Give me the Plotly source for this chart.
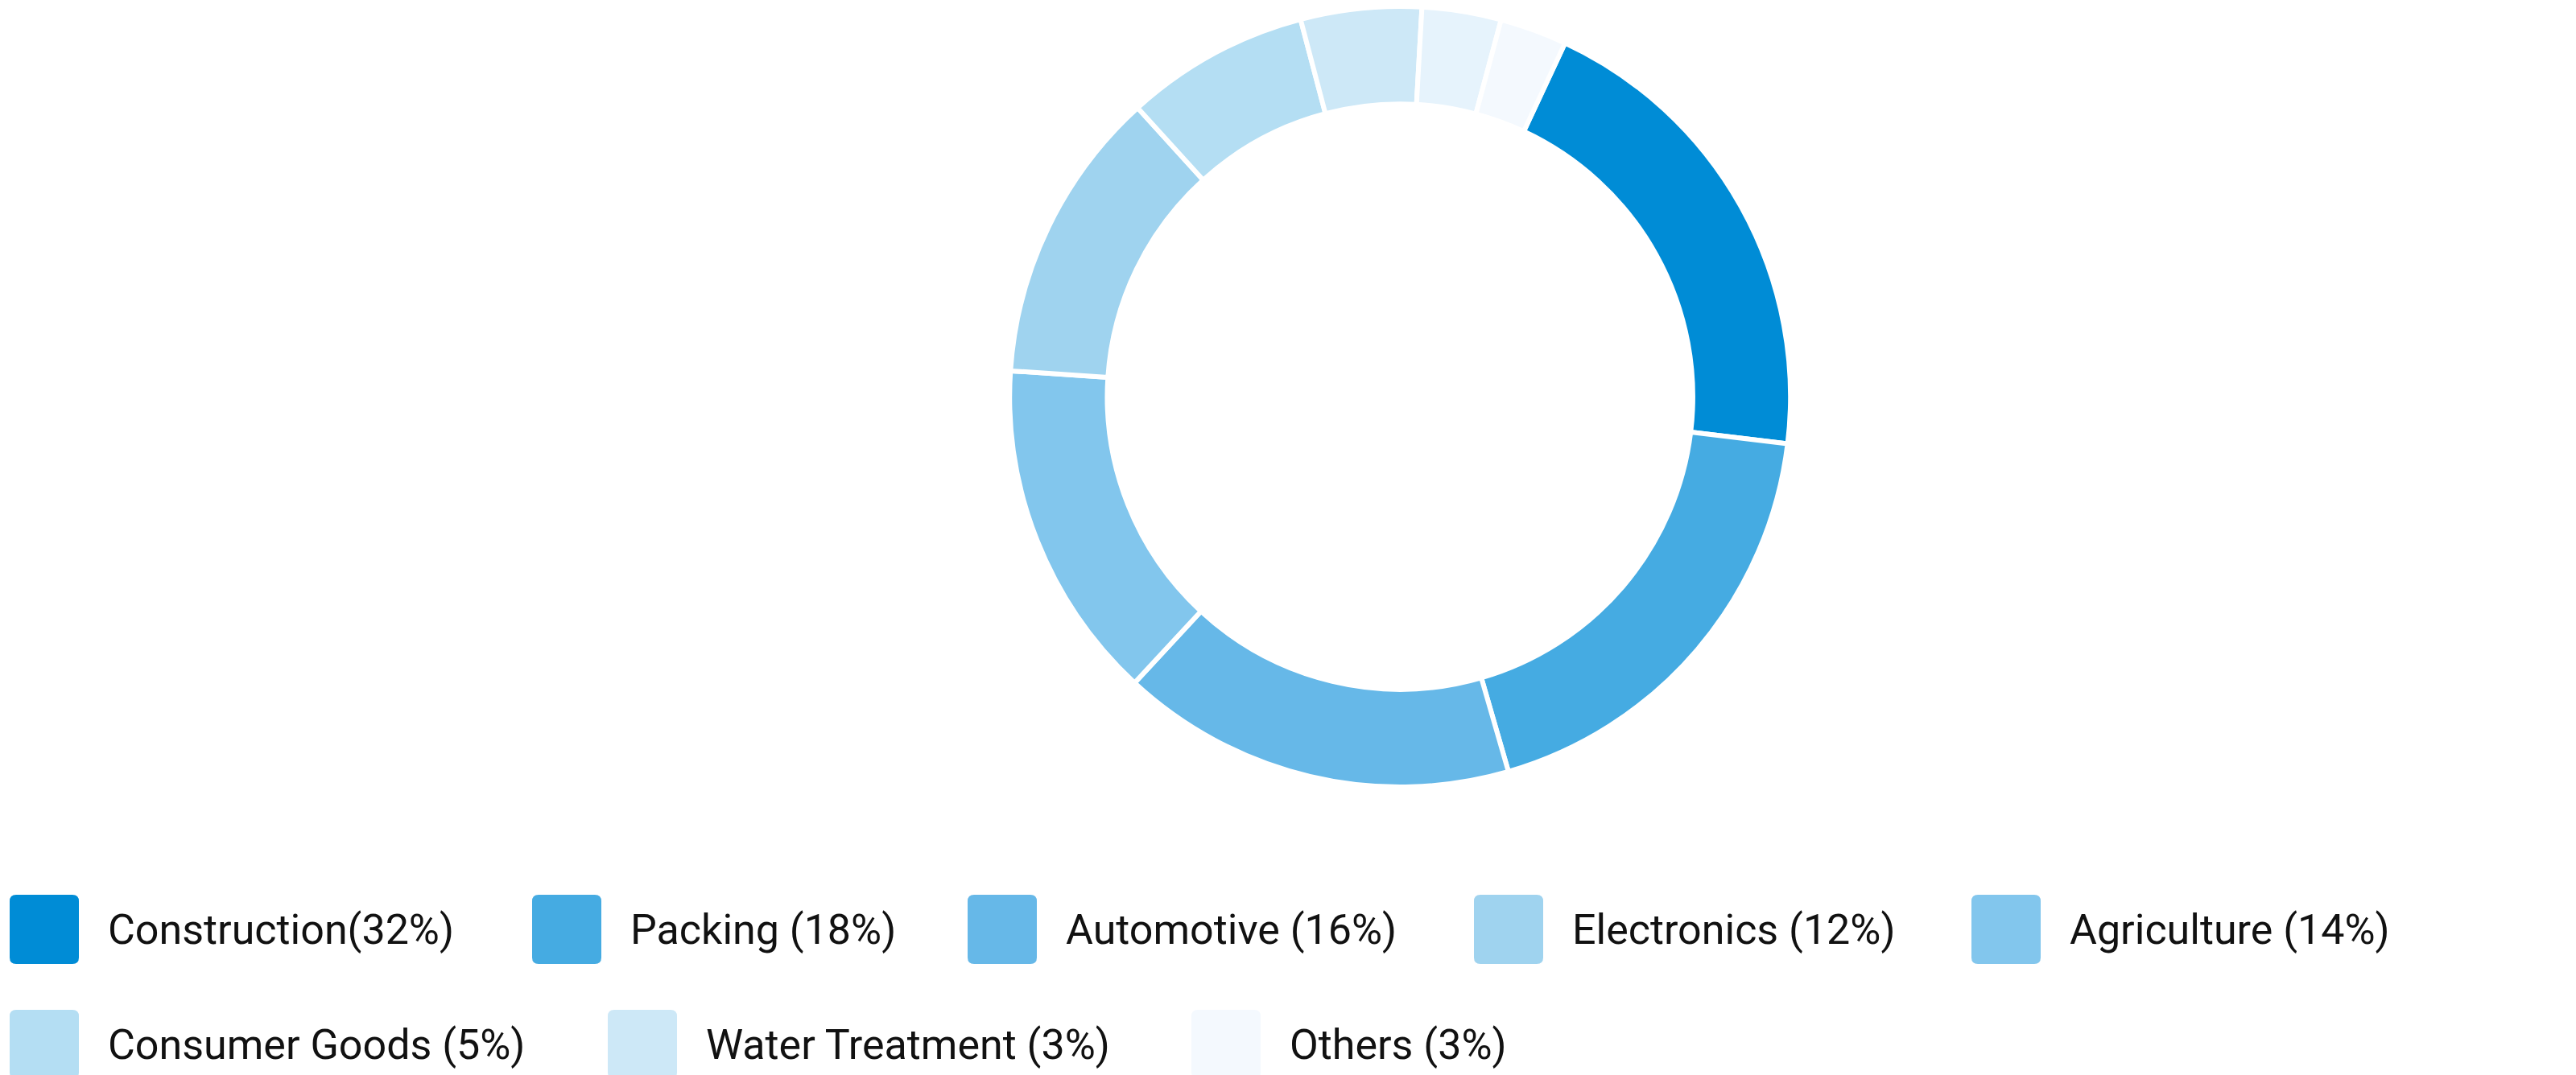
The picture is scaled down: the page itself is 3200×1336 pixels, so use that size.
import plotly.graph_objects as go

labels = ["Construction", "Packing", "Automotive", "Agriculture", "Electronics",
          "Consumer Goods", "Water Treatment", "Extra", "Others"]
values = [72, 67, 59, 51, 44, 27.5, 18, 11.8, 10]
colors = ["#008cd6", "#45abe2", "#66b8e8", "#82c6ed", "#9fd3ef",
          "#b4def3", "#cde8f7", "#e6f3fc", "#f4f9fe"]

legend_text = ["Construction(32%)", "Packing (18%)", "Automotive (16%)", "Electronics (12%)",
               "Agriculture (14%)", "Consumer Goods (5%)", "Water Treatment (3%)", "Others (3%)"]
legend_colors = ["#008cd6", "#45abe2", "#66b8e8", "#9fd3ef", "#82c6ed",
                 "#b4def3", "#cde8f7", "#f4f9fe"]
legend_x = [4, 653, 1194, 1823, 2441, 4, 747, 1472]
legend_y = [1147, 1147, 1147, 1147, 1147, 1290, 1290, 1290]

W, H = 3200, 1336
fig = go.Figure(go.Pie(
    labels=labels, values=values, sort=False, direction="clockwise", rotation=25,
    hole=0.75, marker=dict(colors=colors, line=dict(color="white", width=6)),
    textinfo="none", hoverinfo="label", showlegend=False,
    domain=dict(x=[0.389, 0.693], y=[0.274, 1.0])))

def rrect(x0, y0, x1, y1, r):
    X = lambda v: v / W
    Y = lambda v: 1 - v / H
    return (f"M {X(x0+r)} {Y(y0)} L {X(x1-r)} {Y(y0)} Q {X(x1)} {Y(y0)} {X(x1)} {Y(y0+r)} "
            f"L {X(x1)} {Y(y1-r)} Q {X(x1)} {Y(y1)} {X(x1-r)} {Y(y1)} "
            f"L {X(x0+r)} {Y(y1)} Q {X(x0)} {Y(y1)} {X(x0)} {Y(y1-r)} "
            f"L {X(x0)} {Y(y0+r)} Q {X(x0)} {Y(y0)} {X(x0+r)} {Y(y0)} Z")

shapes, anns = [], []
for t, c, x, y in zip(legend_text, legend_colors, legend_x, legend_y):
    shapes.append(dict(type="path", xref="paper", yref="paper",
                       path=rrect(x, y - 43, x + 86, y + 43, 8), fillcolor=c, line=dict(width=0)))
    anns.append(dict(x=(x + 120) / W, y=1 - y / H, xref="paper", yref="paper", text=t,
                     showarrow=False, xanchor="left", yanchor="middle",
                     font=dict(family="Roboto", size=52, color="#111111")))

fig.update_layout(width=W, height=H, margin=dict(l=0, r=0, t=0, b=0),
                  paper_bgcolor="white", plot_bgcolor="white", shapes=shapes, annotations=anns)
fig.write_html("out.html")
